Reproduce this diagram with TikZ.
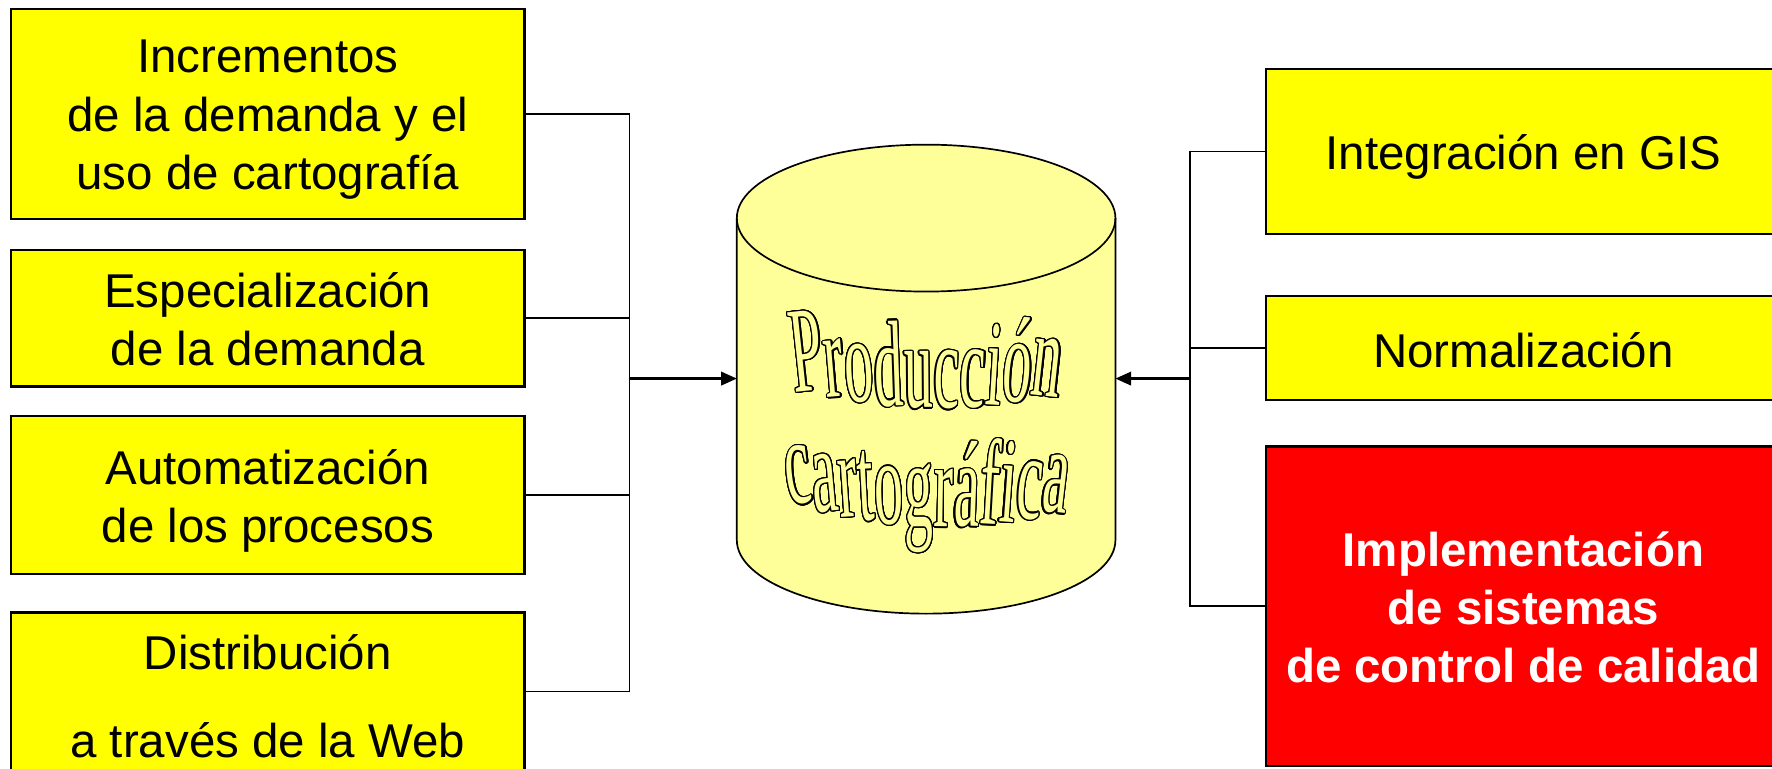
\documentclass[tikz,border=0pt]{standalone}
\usepackage{fontspec}
\usepackage{contour}
\setmainfont{Liberation Sans}
\newfontfamily\wafam[FakeStretch=0.475]{Liberation Serif}
\usetikzlibrary{arrows.meta}
\definecolor{boxyellow}{HTML}{FFFF00}
\definecolor{boxred}{HTML}{FF0000}
\definecolor{cylfill}{HTML}{FFFF99}
\contourlength{1.1pt}
\contournumber{24}
\newcommand\wafont{\wafam\fontsize{108pt}{108pt}\selectfont}
\newcommand\emw{51.3}
% #1 letters/widths, #2 start x, #3 A, #4 B, #5 C (baseline y = A + B u + C u^2, u = x-820), #6 name prefix
\newcommand\wordart[6]{%
  \xdef\curx{#2}%
  \foreach \ch/\w [count=\i] in {#1}{%
    \pgfmathsetmacro\cx{\curx+0.5*\w*\emw}%
    \pgfmathsetmacro\by{#3+#4*(\cx-820)+#5*(\cx-820)*(\cx-820)}%
    \pgfmathsetmacro\rot{-0.06*(\cx-820)}%
    \node[anchor=base, inner sep=0pt, rotate=\rot] (#6\i) at (\cx,\by) {\wafont\color{cylfill}\contour{black}{\ch}};%
    \pgfmathsetmacro\nx{\curx+\w*\emw}%
    \xdef\curx{\nx}%
  }%
}
\begin{document}
\begin{tikzpicture}[x=1pt,y=-1pt,
  every node/.style={inner sep=0pt, outer sep=0pt},
  causebox/.style={draw=black, line width=2pt, fill=boxyellow, minimum width=454pt},
  boxtext/.style={align=center, font=\fontsize{42pt}{51.5pt}\selectfont},
  wire/.style={draw=black, line width=1.5pt},
  tip/.style={-{Triangle[length=14pt,width=12pt]}}]
\useasboundingbox (0,0) rectangle (1568,680);
% left boxes
\node[causebox, minimum height=186pt] (c1) at (237,101) {};
\node[boxtext] (c1t) at ([yshift=-5pt]c1.center) {Incrementos\\de la demanda y el\\uso de cartografía};
\node[causebox, minimum height=121pt] (c2) at (237,281.5) {};
\node[boxtext] (c2t) at ([yshift=-1pt]c2.center) {Especialización\\de la demanda};
\node[causebox, minimum height=140pt] (c3) at (237,438) {};
\node[boxtext] (c3t) at ([yshift=-5pt]c3.center) {Automatización\\de los procesos};
\node[causebox, minimum height=140pt] (c4) at (237,612) {};
\node[boxtext, font=\fontsize{42pt}{78pt}\selectfont] (c4t) at ([yshift=-4pt]c4.center) {Distribución\\a través de la Web};
% right boxes
\node[causebox, minimum width=456pt, minimum height=146pt] (r1) at (1348,134) {};
\node[boxtext] (r1t) at ([yshift=-5pt]r1.center) {Integración en GIS};
\node[causebox, minimum width=456pt, minimum height=92pt] (r2) at (1348,308) {};
\node[boxtext] (r2t) at ([yshift=-2pt]r2.center) {Normalización};
\node[causebox, fill=boxred, minimum width=456pt, minimum height=283pt] (r3) at (1348,536.5) {};
\node[boxtext, text=white, font=\bfseries\fontsize{42pt}{51pt}\selectfont] (r3t) at ([yshift=-1pt]r3.center) {Implementación\\de sistemas\\de control de calidad};
% cylinder
\node[minimum width=335pt, minimum height=415pt] (cyl) at (819.5,335.5) {};
\draw[line width=1.5pt, fill=cylfill] (652,193) -- (652,478)
  arc[start angle=180,end angle=360,x radius=167.5pt,y radius=65pt] -- (987,193)
  arc[start angle=0,end angle=180,x radius=167.5pt,y radius=65pt] -- cycle;
\draw[line width=1.5pt] (652,193) arc[start angle=180,end angle=360,x radius=167.5pt,y radius=65pt];
\wordart{P/0.556,r/0.333,o/0.5,d/0.5,u/0.5,c/0.444,c/0.444,i/0.278,ó/0.5,n/0.5}{703.2}{361}{0.026}{-0.00121}{pa}
\wordart{c/0.444,a/0.444,r/0.333,t/0.278,o/0.5,g/0.5,r/0.333,á/0.444,f/0.333,i/0.278,c/0.444,a/0.444}{698}{466}{0.0365}{-0.001346}{pb}
% connectors
\coordinate (jl) at (557,335);
\coordinate (jr) at (1053,335);
\draw[wire] (c1.east) -| (jl);
\draw[wire] (c4.east) -| (jl);
\draw[wire] (c2.east) -- (c2.east -| jl);
\draw[wire] (c3.east) -- (c3.east -| jl);
\draw[wire, line width=2pt, tip] (jl) -- (jl -| cyl.west);
\draw[wire] (r1.west) -| (jr);
\draw[wire] (r3.west) -| (jr);
\draw[wire] (r2.west) -- (r2.west -| jr);
\draw[wire, line width=2pt, tip] (jr) -- (jr -| cyl.east);
\end{tikzpicture}
\end{document}
